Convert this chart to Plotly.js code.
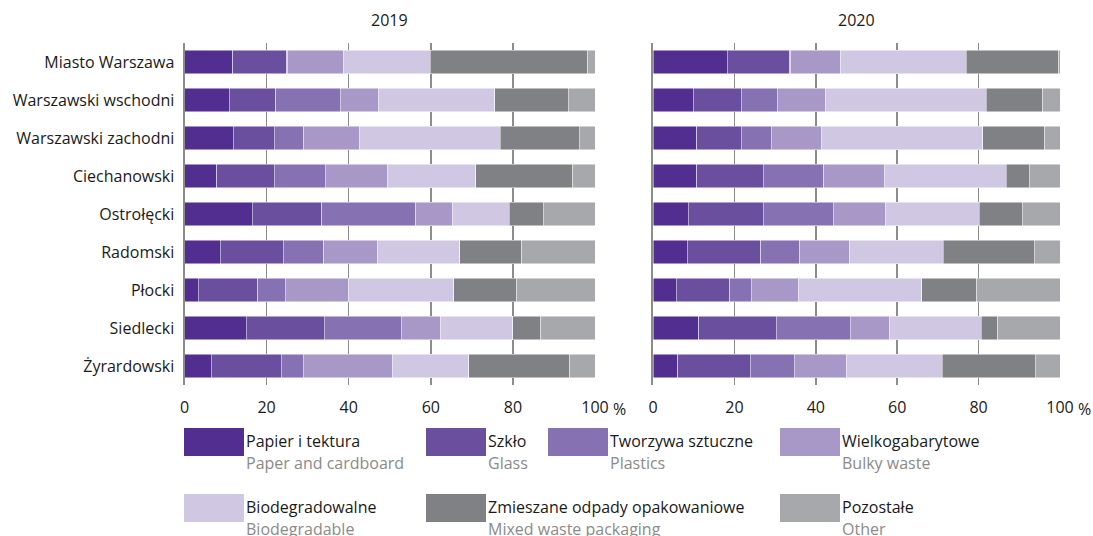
<!DOCTYPE html>
<html><head><meta charset="utf-8">
<script src="https://cdn.plot.ly/plotly-3.0.1.min.js"></script>
<style>html,body{margin:0;padding:0;background:#fff;} #chart{width:1093px;height:536px;}</style>
</head><body><div id="chart"></div>
<script>
const regions = ['Miasto Warszawa','Warszawski wschodni','Warszawski zachodni','Ciechanowski','Ostrołęcki','Radomski','Płocki','Siedlecki','Żyrardowski'];
const years = ['2019','2020'];
const namesPl = ['Papier i tektura','Szkło','Tworzywa sztuczne','Wielkogabarytowe','Biodegradowalne','Zmieszane odpady opakowaniowe','Pozostałe'];
const namesEn = ['Paper and cardboard','Glass','Plastics','Bulky waste','Biodegradable','Mixed waste packaging','Other'];
const xTickVals = [0,20,40,60,80,100];
const xTickText = ['0','20','40','60','80','100'];

const paper2019    = [11.7,10.9,11.9, 7.9,16.5, 8.7, 3.4,15.1, 6.5];
const glass2019    = [13.2,11.3,10.0,14.0,16.9,15.4,14.4,19.0,17.1];
const plastics2019 = [ 0.3,15.8, 7.1,12.4,22.9, 9.8, 6.7,18.7, 5.3];
const bulky2019    = [13.6, 9.2,13.6,15.1, 8.9,13.0,15.5, 9.5,21.7];
const bio2019      = [21.1,28.4,34.3,21.5,13.9,20.2,25.6,17.7,18.7];
const mixed2019    = [38.3,17.9,19.3,23.7, 8.3,15.1,15.3, 6.8,24.6];
const other2019    = [ 1.8, 6.5, 3.8, 5.4,12.6,17.8,19.1,13.2, 6.1];

const paper2020    = [18.3, 9.9,10.7,10.7, 8.6, 8.4, 5.7,11.3, 6.1];
const glass2020    = [15.3,11.8,11.0,16.4,18.5,18.1,13.1,19.0,17.8];
const plastics2020 = [ 0.3, 8.8, 7.4,14.9,17.2, 9.6, 5.4,18.2,10.8];
const bulky2020    = [12.2,11.8,12.2,14.8,12.8,12.1,11.5, 9.5,12.8];
const bio2020      = [30.9,39.6,39.7,30.0,23.1,23.1,30.3,22.7,23.6];
const mixed2020    = [22.7,13.9,15.2, 5.7,10.5,22.4,13.5, 4.0,22.8];
const other2020    = [ 0.3, 4.2, 3.8, 7.5, 9.3, 6.3,20.5,15.3, 6.1];

const colors = ['#522E91','#6B4F9F','#8672B2','#A898C7','#D0C7E2','#808184','#A7A8AB'];
const FONT = 'Open Sans, sans-serif';
const FS = 16;

const data2019 = [paper2019,glass2019,plastics2019,bulky2019,bio2019,mixed2019,other2019];
const data2020 = [paper2020,glass2020,plastics2020,bulky2020,bio2020,mixed2020,other2020];

const traces = [];
[data2019, data2020].forEach((set, yi) => {
  set.forEach((vals, si) => {
    traces.push({
      type: 'bar', orientation: 'h',
      x: vals, y: regions,
      xaxis: yi === 0 ? 'x' : 'x2',
      yaxis: yi === 0 ? 'y' : 'y2',
      name: namesPl[si],
      marker: {color: colors[si], line: {color: 'rgba(255,255,255,0.6)', width: 0.8}},
      showlegend: false, hoverinfo: 'x+y+name'
    });
  });
});

const W = 1093, H = 536;
const MT = 43, MB = 151;
const PH = H - MT - MB;
const px = x => x / W;
const py = y => 1 - (y - MT) / PH;
const dom1 = [184.5/W, 595/W];
const dom2 = [653/W, 1060/W];
const gridCol = '#8c8c8c';

function xax(dom, anchor) {
  return {
    domain: dom, anchor: anchor, range: [0, 100], fixedrange: true,
    tickvals: xTickVals, ticktext: xTickText,
    showgrid: true, gridcolor: gridCol, gridwidth: 1.5,
    zeroline: false, showline: false, ticks: '',
    tickfont: {family: FONT, size: FS, color: '#1a1a1a'},
    ticklabelstandoff: 11
  };
}
function yax(showLabels, anchor) {
  return {
    domain: [0, 1], anchor: anchor, autorange: 'reversed', type: 'category',
    showticklabels: showLabels, ticks: '',
    showline: true, linecolor: gridCol, linewidth: 2,
    showgrid: false, zeroline: false,
    tickfont: {family: FONT, size: FS, color: '#1a1a1a'},
    ticklabelstandoff: 5
  };
}

const annotations = [];
const shapes = [];
[dom1, dom2].forEach((d, i) => {
  annotations.push({text: years[i], xref: 'paper', yref: 'paper', x: (d[0]+d[1])/2, y: py(20),
    xanchor: 'center', yanchor: 'middle', showarrow: false, font: {family: FONT, size: FS, color: '#1a1a1a'}});
  annotations.push({text: '%', xref: 'x' + (i === 0 ? '' : '2'), yref: 'paper', x: 100, y: py(409),
    xanchor: 'left', yanchor: 'middle', xshift: 16, showarrow: false,
    font: {family: FONT, size: FS, color: '#1a1a1a'}});
});

// legend (layout only)
const legCols = [184, 426, 548, 780];
const legRows = [428, 494];
const legSlots = [[0,0],[0,1],[0,2],[0,3],[1,0],[1,1],[1,3]];
namesPl.forEach((nm, i) => {
  const r = legSlots[i][0], c = legSlots[i][1];
  const x0 = legCols[c], y0 = legRows[r];
  shapes.push({type: 'rect', xref: 'paper', yref: 'paper',
    x0: px(x0), x1: px(x0 + 60), y0: py(y0), y1: py(y0 + 28),
    fillcolor: colors[i], line: {width: 0}});
  annotations.push({text: nm, xref: 'paper', yref: 'paper', x: px(x0 + 60), y: py(y0 + 13),
    xanchor: 'left', yanchor: 'middle', showarrow: false,
    font: {family: FONT, size: FS, color: '#1a1a1a'}});
  annotations.push({text: namesEn[i], xref: 'paper', yref: 'paper', x: px(x0 + 60), y: py(y0 + 35),
    xanchor: 'left', yanchor: 'middle', showarrow: false,
    font: {family: FONT, size: FS, color: '#8a8a8a'}});
});

const layout = {
  width: W, height: H,
  margin: {l: 0, r: 0, t: MT, b: MB, pad: 0},
  paper_bgcolor: '#fff', plot_bgcolor: 'rgba(0,0,0,0)',
  barmode: 'stack', bargap: 0.39,
  showlegend: false,
  xaxis: xax(dom1, 'y'),
  xaxis2: xax(dom2, 'y2'),
  yaxis: yax(true, 'x'),
  yaxis2: Object.assign(yax(false, 'x2'), {matches: 'y'}),
  annotations: annotations, shapes: shapes,
  font: {family: FONT}
};

Plotly.newPlot('chart', traces, layout, {displayModeBar: false, staticPlot: true});
</script>
</body></html>
